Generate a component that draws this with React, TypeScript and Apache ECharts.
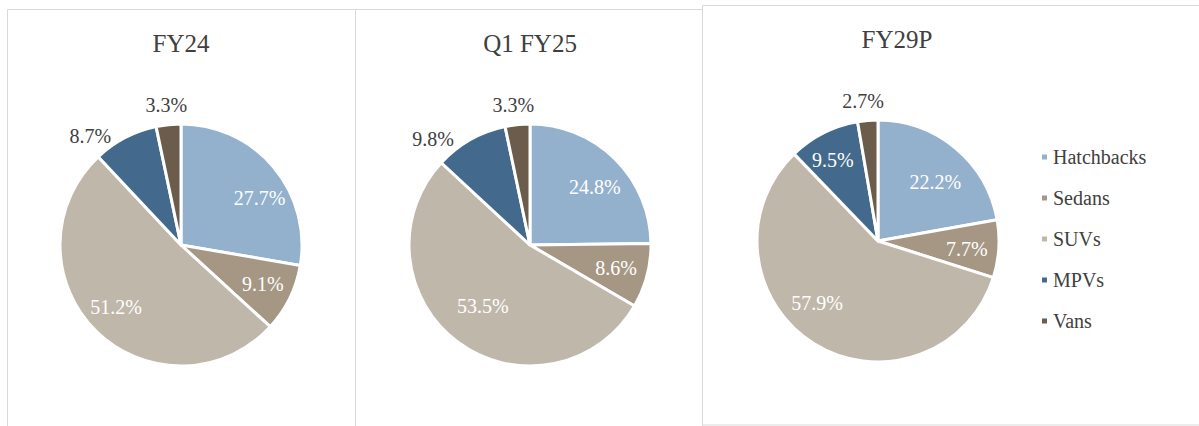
import React, { useEffect, useRef } from "react";
import * as echarts from "echarts";

const categories = ["Hatchbacks", "Sedans", "SUVs", "MPVs", "Vans"];
const fy24 = [27.7, 9.1, 51.2, 8.7, 3.3];
const q1fy25 = [24.8, 8.6, 53.5, 9.8, 3.3];
const fy29p = [22.2, 7.7, 57.9, 9.5, 2.7];
const titles = ["FY24", "Q1 FY25", "FY29P"];

// layout / style config (not data)
const colors = ["#93b1cc", "#a69784", "#bfb7aa", "#436a8d", "#6b5c4c"];
const insideFlags = [
  [true, true, true, false, false],
  [true, true, true, false, false],
  [true, true, true, true, false],
];
// small label nudges [dx, dy] (Excel "best fit" placement)
const nudges: [number, number][][] = [
  [[9, 12], [0, -1], [-1, -3], [-25, 17], [0, 1]],
  [[1, 7], [-2, 0], [7, -12], [-27, 18], [-2, 1]],
  [[-1, 11], [-2, 2], [-13, -15], [-4, 0], [-3, 1]],
];
const centers: [number, number][] = [
  [181, 245],
  [530, 245],
  [878, 241],
];
const titleY = [31, 31, 27];
const R = 121;
const FONT = "'Liberation Serif', 'Times New Roman', serif";
const TEXT = "#404040";

export default function App() {
  const ref = useRef<HTMLDivElement>(null);
  useEffect(() => {
    document.body.style.margin = "0";
    const chart = echarts.init(ref.current!, null, { renderer: "svg" });
    const datasets = [fy24, q1fy25, fy29p];
    const series: any[] = [];
    const fmt = (p: any) => Number(p.value).toFixed(1) + "%";
    datasets.forEach((vals, ci) => {
      series.push({
        type: "pie",
        name: titles[ci],
        center: centers[ci],
        radius: [0, R],
        startAngle: 90,
        clockwise: true,
        silent: true,
        label: { show: false },
        labelLine: { show: false },
        itemStyle: { borderColor: "#ffffff", borderWidth: 3 },
        data: categories.map((c, i) => ({
          name: c,
          value: vals[i],
          itemStyle: { color: colors[i] },
        })),
      });
      const ring = (inside: boolean) => ({
        type: "pie",
        name: titles[ci] + (inside ? "-in" : "-out"),
        center: centers[ci],
        radius: inside ? [72, 104] : [126, 152],
        startAngle: 90,
        clockwise: true,
        silent: true,
        legendHoverLink: false,
        itemStyle: { color: "rgba(0,0,0,0)" },
        labelLine: { show: false },
        label: {
          position: "inside",
          fontFamily: FONT,
          fontSize: 20,
          formatter: fmt,
        },
        labelLayout: (p: any) => ({
          dx: nudges[ci][p.dataIndex][0],
          dy: nudges[ci][p.dataIndex][1],
        }),
        data: categories.map((c, i) => ({
          name: c,
          value: vals[i],
          itemStyle: { color: "rgba(0,0,0,0)" },
          label: {
            show: insideFlags[ci][i] === inside,
            position: "inside",
            color: inside ? "#ffffff" : TEXT,
            fontFamily: FONT,
            fontSize: 20,
            formatter: fmt,
          },
        })),
      });
      series.push(ring(true));
      series.push(ring(false));
    });

    chart.setOption({
      animation: false,
      backgroundColor: "#ffffff",
      textStyle: { fontFamily: FONT },
      title: titles.map((t, i) => ({
        text: t,
        left: centers[i][0] + (i === 2 ? 19 : 0),
        top: titleY[i],
        textAlign: "center",
        padding: 0,
        textStyle: {
          fontFamily: FONT,
          fontSize: 25,
          fontWeight: "normal",
          color: TEXT,
        },
      })),
      legend: {
        orient: "vertical",
        left: 1040,
        top: 147,
        padding: 0,
        icon: "rect",
        itemWidth: 7,
        itemHeight: 7,
        itemGap: 21,
        selectedMode: false,
        data: categories,
        textStyle: {
          fontFamily: FONT,
          fontSize: 20,
          lineHeight: 20,
          color: TEXT,
        },
      },
      graphic: [
        {
          type: "rect",
          silent: true,
          z: -10,
          shape: { x: 7.5, y: 9.5, width: 348, height: 440 },
          style: { fill: "none", stroke: "#d9d9d9", lineWidth: 1 },
        },
        {
          type: "rect",
          silent: true,
          z: -10,
          shape: { x: 355.5, y: 9.5, width: 347, height: 440 },
          style: { fill: "none", stroke: "#d9d9d9", lineWidth: 1 },
        },
        {
          type: "rect",
          silent: true,
          z: -10,
          shape: { x: 702.5, y: 5.5, width: 520, height: 419.5 },
          style: { fill: "#ffffff", stroke: "#d9d9d9", lineWidth: 1 },
        },
      ],
      series,
    });
    return () => chart.dispose();
  }, []);
  return (
    <div
      ref={ref}
      style={{ position: "absolute", left: 0, top: 0, width: 1199, height: 426 }}
    />
  );
}
